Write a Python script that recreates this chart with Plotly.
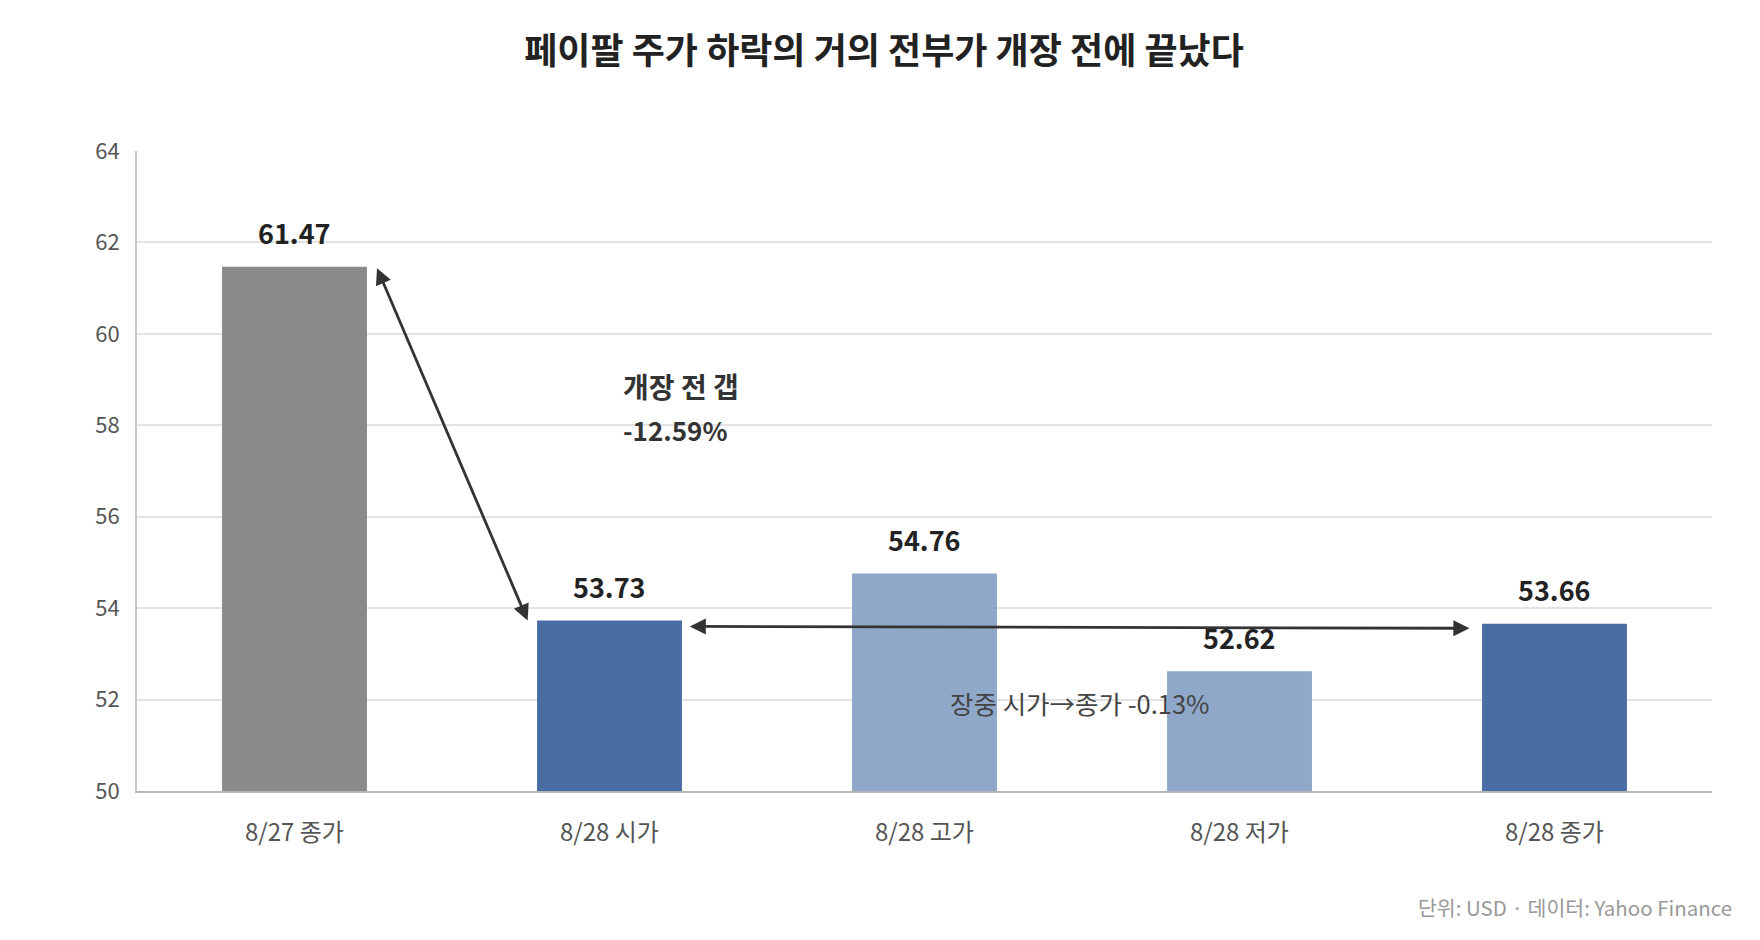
import plotly.graph_objects as go

categories = ["8/27 종가", "8/28 시가", "8/28 고가", "8/28 저가", "8/28 종가"]
values = [61.47, 53.73, 54.76, 52.62, 53.66]
bar_colors = ["#8a8a8a", "#4a6ea3", "#8fa8c9", "#8fa8c9", "#4a6ea3"]
y_ticks = [50, 52, 54, 56, 58, 60, 62, 64]

title_text = "페이팔 주가 하락의 거의 전부가 개장 전에 끝났다"
gap_label = ["개장 전 갭", "-12.59%"]
intraday_label = "장중 시가→종가 -0.13%"
source_text = "단위: USD · 데이터: Yahoo Finance"

FONT = "Noto Sans CJK KR, Noto Sans, sans-serif"

W, H = 1752, 932
ML, MR, MT, MB = 129, 48, 143, 149

fig = go.Figure()
fig.add_trace(go.Bar(
    x=categories,
    y=values,
    marker=dict(color=bar_colors, line=dict(width=0)),
    width=0.46,
    hoverinfo="skip",
))

annotations = []
for c, v in zip(categories, values):
    annotations.append(dict(
        x=c, y=v, xref="x", yref="y", text=f"<b>{v:.2f}</b>",
        showarrow=False, yanchor="middle", yshift=34,
        font=dict(family=FONT, size=27, color="#222222"),
    ))

# pre-market gap arrow (8/27 close -> 8/28 open)
annotations.append(dict(
    x=0.74, y=values[1], ax=0.26, ay=values[0],
    xref="x", yref="y", axref="x", ayref="y",
    text="", showarrow=True, arrowhead=2, startarrowhead=2,
    arrowside="end+start", arrowsize=1.15, startarrowsize=1.15,
    arrowwidth=2.8, arrowcolor="#333333",
))
# intraday arrow (open -> close)
annotations.append(dict(
    x=3.73, y=values[4] - 0.1, ax=1.25, ay=values[1] - 0.13,
    xref="x", yref="y", axref="x", ayref="y",
    text="", showarrow=True, arrowhead=2, startarrowhead=2,
    arrowside="end+start", arrowsize=1.15, startarrowsize=1.15,
    arrowwidth=2.8, arrowcolor="#333333",
))

annotations.append(dict(
    x=1.035, y=58.85, xref="x", yref="y", text=f"<b>{gap_label[0]}</b>",
    showarrow=False, xanchor="left", yanchor="middle",
    font=dict(family=FONT, size=28, color="#333333"),
))
annotations.append(dict(
    x=1.035, y=57.9, xref="x", yref="y", text=f"<b>{gap_label[1]}</b>",
    showarrow=False, xanchor="left", yanchor="middle",
    font=dict(family=FONT, size=26, color="#333333"),
))
annotations.append(dict(
    x=2.495, y=51.93, xref="x", yref="y", text=intraday_label,
    showarrow=False, xanchor="center", yanchor="middle",
    font=dict(family=FONT, size=25.5, color="#444444"),
))
plot_w = W - ML - MR
plot_h = H - MT - MB
annotations.append(dict(
    x=(1726 - ML) / plot_w, y=(H - MB - 899) / plot_h,
    xref="paper", yref="paper", text=source_text,
    showarrow=False, xanchor="right", yanchor="middle",
    font=dict(family=FONT, size=20.5, color="#999999"),
))

fig.update_layout(
    width=W, height=H,
    paper_bgcolor="white", plot_bgcolor="white",
    margin=dict(l=ML, r=MR, t=MT, b=MB),
    showlegend=False,
    title=dict(
        text=f"<b>{title_text}</b>", x=0.5, xanchor="center",
        y=1 - 43 / H, yanchor="middle",
        font=dict(family=FONT, size=36, color="#222222"),
    ),
    xaxis=dict(
        type="category", showgrid=False, showline=True, linecolor="#b5b5b5",
        linewidth=2, ticks="", tickfont=dict(family=FONT, size=24, color="#555555"),
        ticklabelstandoff=19,
    ),
    yaxis=dict(
        range=[50, 64], tickvals=y_ticks, showgrid=True, gridcolor="#e3e3e3",
        gridwidth=1.5, showline=True, linecolor="#c8c8c8", linewidth=2,
        zeroline=False, ticks="", tickfont=dict(family=FONT, size=22, color="#555555"),
        ticklabelstandoff=11,
    ),
    annotations=annotations,
)

fig.write_html("out.html")
